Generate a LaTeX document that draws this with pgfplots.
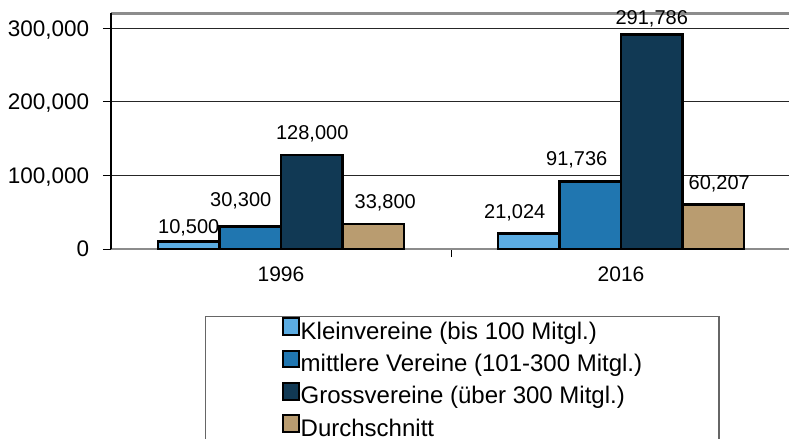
\documentclass[border=0pt]{standalone}
\usepackage{fontspec}
\setmainfont{Liberation Sans}
\usepackage{pgfplots}
\pgfplotsset{compat=1.18}
\usepackage{pgfplotstable}
\definecolor{cA}{RGB}{91,172,226}
\definecolor{cB}{RGB}{32,118,176}
\definecolor{cC}{RGB}{17,57,84}
\definecolor{cD}{RGB}{185,156,112}

\pgfplotstableread{
x y dx dy lab
0 10500 0 8 10,500
1 21024 -14 15.5 21,024
}\tA
\pgfplotstableread{
x y dx dy lab
0 30300 -9.5 20.5 30,300
1 91736 -13.5 15.5 91,736
}\tB
\pgfplotstableread{
x y dx dy lab
0 128000 0.5 15 128,000
1 291786 0 10 291,786
}\tC
\pgfplotstableread{
x y dx dy lab
0 33800 12 16 33,800
1 60207 6 15.6 60,207
}\tD

\pgfplotsset{
  lbl/.style={
    point meta=explicit symbolic,
    nodes near coords,
    visualization depends on={\thisrow{dx}\as\dx},
    visualization depends on={\thisrow{dy}\as\dy},
    nodes near coords style={anchor=base, inner sep=0pt, font=\fontsize{20bp}{24bp}\selectfont, xshift=\dx*1bp, yshift=\dy*1bp},
  }
}

\begin{document}
\begin{tikzpicture}
\useasboundingbox (0bp,0bp) rectangle (789bp,439bp);
\begin{axis}[
  at={(111bp,190bp)}, anchor=south west,
  scale only axis, width=680bp, height=235.5bp,
  xmin=-0.5, xmax=1.5, ymin=0, ymax=320000,
  clip=false,
  ybar=0pt, bar width=61.5bp,
  separate axis lines,
  x axis line style={draw=black!45, line width=2.5bp},
  y axis line style={draw=black, line width=2bp},
  ymajorgrids,
  major grid style={black!85, line width=0.9bp},
  tick align=outside,
  ytick pos=left, xtick pos=bottom,
  ytick={0,100000,200000,300000},
  scaled y ticks=false,
  yticklabel style={/pgf/number format/fixed, /pgf/number format/1000 sep={,}, /pgf/number format/assume math mode=true},
  yticklabel style={font=\fontsize{22.5bp}{27bp}\selectfont, anchor=base east, inner sep=0pt, xshift=-13.7bp, yshift=-7.9bp},
  major tick length=8bp,
  tick style={black, line width=1bp},
  xtick={0.5}, xticklabels={},
  extra x ticks={0,1}, extra x tick labels={1996,2016},
  extra x tick style={major tick length=0pt, tick style={draw=none},
     xticklabel style={font=\fontsize{21bp}{25bp}\selectfont, anchor=north, inner sep=0pt, yshift=-17.7bp}},
  every axis plot/.append style={draw=black, line width=2.5bp},
  legend image code/.code={\draw[#1, line width=2bp] (0bp,0bp) rectangle (16bp,16.5bp);},
  legend style={at={(0.1382,-0.2832)}, anchor=north west, draw=black!60, line width=1.5bp,
     font=\fontsize{24bp}{28bp}\selectfont, inner xsep=76bp, inner ysep=1bp, row sep=3.1bp,
     nodes={inner sep=1bp, text height=15bp, text depth=6.5bp}},
  legend cell align=left,
]
\addplot[fill=cA, lbl, forget plot, bar shift=-92.25bp] table[x=x, y=y, meta=lab] {\tA};
\addplot[fill=cB, lbl, forget plot, bar shift=-30.75bp] table[x=x, y=y, meta=lab] {\tB};
\addplot[fill=cC, lbl, forget plot, bar shift=30.75bp] table[x=x, y=y, meta=lab] {\tC};
\addplot[fill=cD, lbl, forget plot, bar shift=92.25bp] table[x=x, y=y, meta=lab] {\tD};
\addlegendimage{fill=cA, draw=black}
\addlegendentry{Kleinvereine (bis 100 Mitgl.)}
\addlegendimage{fill=cB, draw=black}
\addlegendentry{mittlere Vereine (101-300 Mitgl.)}
\addlegendimage{fill=cC, draw=black}
\addlegendentry{Grossvereine (über 300 Mitgl.)}
\addlegendimage{fill=cD, draw=black}
\addlegendentry{Durchschnitt}
\end{axis}
\end{tikzpicture}
\end{document}
